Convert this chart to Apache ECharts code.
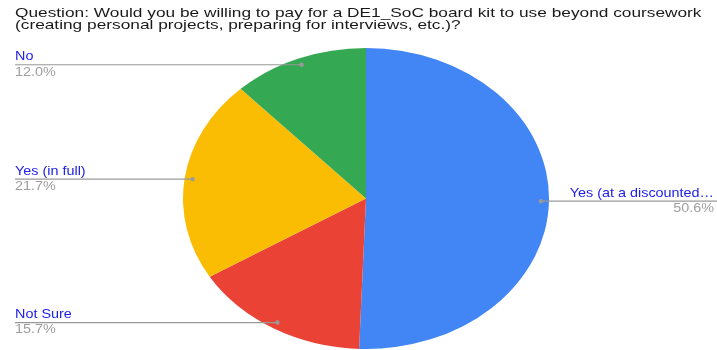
<!DOCTYPE html>
<html>
<head>
<meta charset="utf-8">
<script src="https://cdn.jsdelivr.net/npm/echarts@6/dist/echarts.min.js"></script>
<style>
  html, body { margin: 0; padding: 0; background: #fff; }
  #wrap { position: relative; width: 717px; height: 350px; overflow: hidden; }
  #pie, #text { position: absolute; left: 0; top: 0; width: 717px; height: 350px; }
  /* the pie is drawn round and widened into an ellipse */
  #pie { transform-origin: 366px 198.5px; transform: scaleX(1.216); }
</style>
</head>
<body>
<div id="wrap"><div id="pie"></div><div id="text"></div></div>
<script>
// ---- data ----
const titleLines = [
  'Question: Would you be willing to pay for a DE1_SoC board kit to use beyond coursework',
  '(creating personal projects, preparing for interviews, etc.)?'
];
const categories = ['Yes (at a discounted\u2026', 'Not Sure', 'Yes (in full)', 'No'];
const values = [50.6, 15.7, 21.7, 12.0];
const colors = ['#4285F4', '#EA4335', '#FBBC04', '#34A853'];

// ---- layout ----
const CX = 366, CY = 198.5, R = 150.5, SX = 1.216;
const FONT = '"Liberation Sans", Arial, sans-serif';
const NAME_COLOR = '#2020ee';
const PCT_COLOR = '#9e9e9e';
const LINE_COLOR = '#999999';

// slices
const pie = echarts.init(document.getElementById('pie'), null, { renderer: 'svg' });
pie.setOption({
  animation: false,
  color: colors,
  series: [{
    type: 'pie',
    center: [CX, CY],
    radius: R,
    startAngle: 90,
    clockwise: true,
    silent: true,
    label: { show: false },
    labelLine: { show: false },
    itemStyle: { borderWidth: 0 },
    data: categories.map((name, i) => ({ name, value: values[i] }))
  }]
});

// title, leader lines and labels (text is slightly flattened, like the ellipse)
const total = values.reduce((a, b) => a + b, 0);
const graphics = [];
titleLines.forEach((t, i) => {
  graphics.push({
    type: 'text', x: 15, y: 13.7 + i * 11.3, scaleY: 0.77,
    style: { text: t, font: '17.3px ' + FONT, fill: '#1a1a1a', verticalAlign: 'middle', align: 'left' }
  });
});

let acc = 0;
values.forEach((v, i) => {
  const mid = (acc + v / 2) / total * Math.PI * 2;
  acc += v;
  const px = CX + 0.956 * R * SX * Math.sin(mid);
  const py = CY - 0.956 * R * Math.cos(mid);
  const right = Math.sin(mid) > 0;
  const x0 = right ? 717 : 15;
  graphics.push({
    type: 'line',
    shape: { x1: px, y1: py, x2: x0, y2: py },
    style: { stroke: LINE_COLOR, lineWidth: 1.2 }
  });
  graphics.push({
    type: 'circle',
    shape: { cx: px, cy: py, r: 2.2 },
    style: { fill: LINE_COLOR }
  });
  const tx = right ? 714 : 15;
  const align = right ? 'right' : 'left';
  graphics.push({
    type: 'text', x: tx, y: py - 8, scaleY: 0.86,
    style: { text: categories[i], font: '14.4px ' + FONT, fill: NAME_COLOR, verticalAlign: 'middle', align }
  });
  graphics.push({
    type: 'text', x: tx, y: py + 7.5, scaleY: 0.86,
    style: { text: (v / total * 100).toFixed(1) + '%', font: '14.4px ' + FONT, fill: PCT_COLOR, verticalAlign: 'middle', align }
  });
});

const text = echarts.init(document.getElementById('text'), null, { renderer: 'canvas' });
text.setOption({ animation: false, backgroundColor: 'transparent', graphic: graphics });
</script>
</body>
</html>
